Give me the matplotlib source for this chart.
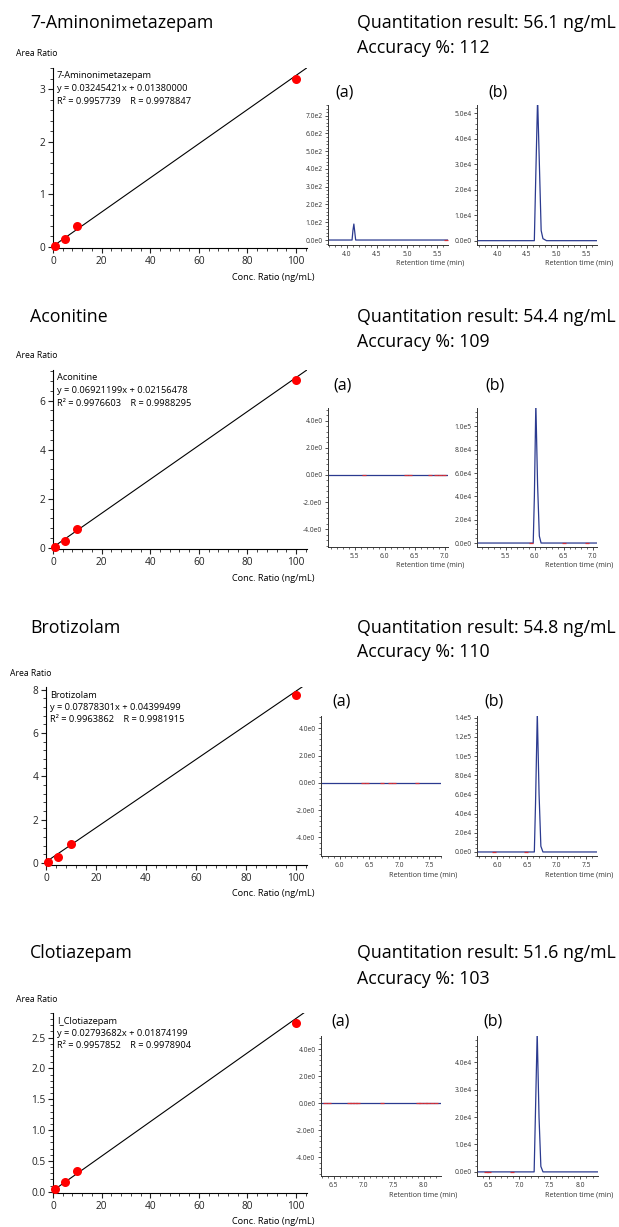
import numpy as np
import matplotlib
matplotlib.use("Agg")
import matplotlib.pyplot as plt
from matplotlib.ticker import MultipleLocator, FuncFormatter

plt.rcParams["font.family"] = ["Open Sans", "DejaVu Sans"]

# ---- data ----
compounds = ["7-Aminonimetazepam", "Aconitine", "Brotizolam", "Clotiazepam"]
fit_labels = ["7-Aminonimetazepam", "Aconitine", "Brotizolam", "I_Clotiazepam"]
slopes = [0.03245421, 0.06921199, 0.07878301, 0.02793682]
intercepts = [0.01380000, 0.02156478, 0.04399499, 0.01874199]
r2_values = ["0.9957739", "0.9976603", "0.9963862", "0.9957852"]
r_values = ["0.9978847", "0.9988295", "0.9981915", "0.9978904"]
quant_results = [56.1, 54.4, 54.8, 51.6]
accuracies = [112, 109, 110, 103]

cal_conc = [1, 5, 10, 100]
area_7amino = [0.02, 0.15, 0.39, 3.20]
area_aconitine = [0.04, 0.27, 0.77, 6.84]
area_brotizolam = [0.06, 0.28, 0.86, 7.74]
area_clotiazepam = [0.04, 0.16, 0.33, 2.74]
area_ratios = [area_7amino, area_aconitine, area_brotizolam, area_clotiazepam]

cal_ylims = [(-0.02, 3.40), (-0.05, 7.25), (-0.10, 8.12), (-0.02, 2.90)]
cal_ymajor = [1, 2, 2, 0.5]

# chromatograms: (a) blank sample, (b) spiked sample
a_times = [
    [3.68, 4.085, 4.10, 4.115, 4.13, 4.145, 5.68],
    [5.05, 7.06],
    [5.69, 7.70],
    [6.29, 8.29],
]
a_signal = [
    [0, 0, 55, 90, 45, 0, 0],
    [0, 0],
    [0, 0],
    [0, 0],
]
b_times = [
    [3.66, 4.625, 4.65, 4.68, 4.71, 4.74, 4.77, 4.83, 5.68],
    [5.02, 5.975, 5.995, 6.02, 6.05, 6.08, 6.11, 7.06],
    [5.66, 6.625, 6.645, 6.675, 6.705, 6.735, 6.77, 7.68],
    [6.31, 7.245, 7.265, 7.295, 7.325, 7.355, 7.39, 8.29],
]
b_signal = [
    [0, 0, 2.6e4, 5.6e4, 3.0e4, 0.4e4, 0.08e4, 0, 0],
    [0, 0, 4.0e4, 1.2e5, 5.0e4, 0.6e4, 0, 0],
    [0, 0, 5.0e4, 1.45e5, 6.0e4, 0.6e4, 0, 0],
    [0, 0, 2.0e4, 5.1e4, 2.0e4, 0.2e4, 0, 0],
]
a_red_marks = [
    [5.64],
    [5.65, 6.35, 6.42, 6.75, 6.86, 6.92, 6.98],
    [6.40, 6.46, 6.72, 6.85, 6.92, 7.30],
    [6.35, 6.42, 6.75, 6.81, 6.86, 6.91, 7.30, 7.90, 7.96, 8.02, 8.08, 8.14, 8.20],
]
b_red_marks = [
    [],
    [5.93, 6.50, 6.90],
    [5.95, 6.48],
    [6.45, 6.50, 6.88],
]
a_xlims = [(3.685, 5.68), (5.055, 7.055), (5.69, 7.70), (6.29, 8.29)]
b_xlims = [(3.66, 5.68), (5.01, 7.07), (5.66, 7.68), (6.31, 8.29)]
a_ylims = [(-28, 760), (-5.3, 4.93), (-5.37, 4.9), (-5.37, 4.98)]
b_ylims = [(-1700, 53300), (-3400, 115700), (-4200, 141800), (-1500, 49600)]
a_ymajor = [100, 2, 2, 2]
b_ymajor = [1e4, 2e4, 2e4, 1e4]

# ---- layout in pixels (left, top, right, bottom) ----
W, H = 619, 1227
cal_boxes = [(53, 68, 307, 248), (53, 370, 307, 549), (46, 687, 307, 865), (53, 1013, 307, 1193)]
a_boxes = [(328, 105, 448, 245), (328, 408, 448, 547), (321, 716, 441, 856), (321, 1036, 441, 1176)]
b_boxes = [(477, 105, 597, 245), (477, 408, 597, 547), (477, 716, 597, 856), (477, 1036, 598, 1176)]
title_y = [22.7, 316.7, 628.3, 953.3]
acc_y = [48.3, 341.7, 651.7, 979.0]
ab_y = [92.7, 385.0, 701.7, 1021.7]
ab_x = [(335, 488), (333, 485), (332, 484), (331, 483)]
area_label_x = [16, 16, 10, 16]

LINE_BLUE = "#2b3a8f"


def rect(box):
    l, t, r, b = box
    return [l / W, 1 - b / H, (r - l) / W, (b - t) / H]


def ftext(fig, x, y, s, **kw):
    kw.setdefault("va", "center")
    fig.text(x / W, 1 - y / H, s, **kw)


def sci_label(v, pos):
    if abs(v) < 1e-12:
        return "0.0e0"
    e = int(np.floor(np.log10(abs(v)) + 1e-9))
    return f"{v / 10 ** e:.1f}e{e}"


def draw_calibration(fig, i):
    box = cal_boxes[i]
    ax = fig.add_axes(rect(box))
    ax.set_xlim(0, 104.5)
    ax.set_ylim(*cal_ylims[i])
    xs = np.array([0, 104.5])
    ax.plot(xs, slopes[i] * xs + intercepts[i], color="black", lw=0.8, zorder=2)
    ax.plot(cal_conc, area_ratios[i], "o", color="#ff0000", ms=6.5, mec="none",
            zorder=3, clip_on=False)
    for s in ["top", "right"]:
        ax.spines[s].set_visible(False)
    for s in ["left", "bottom"]:
        ax.spines[s].set_linewidth(0.8)
    ax.xaxis.set_major_locator(MultipleLocator(20))
    ax.xaxis.set_minor_locator(MultipleLocator(4))
    ax.yaxis.set_major_locator(MultipleLocator(cal_ymajor[i]))
    ax.yaxis.set_minor_locator(MultipleLocator(cal_ymajor[i] / 5))
    if cal_ymajor[i] < 1:
        ax.yaxis.set_major_formatter(FuncFormatter(lambda v, p: f"{v:.1f}"))
    else:
        ax.yaxis.set_major_formatter(FuncFormatter(lambda v, p: f"{v:.0f}"))
    ax.tick_params(which="major", length=3.5, width=0.8, labelsize=7.3, pad=2, colors="#222")
    ax.tick_params(which="minor", length=2, width=0.6, colors="#222")

    l, t, r, b = box
    ftext(fig, area_label_x[i], t - 14, "Area Ratio", fontsize=6.2, ha="left")
    ftext(fig, r + 8, b + 29, "Conc. Ratio (ng/mL)", fontsize=6.6, ha="right")
    ftext(fig, l + 4, t + 8, fit_labels[i], fontsize=6.7, ha="left")
    ftext(fig, l + 4, t + 20.5,
          f"y = {slopes[i]:.8f}x + {intercepts[i]:.8f}", fontsize=6.7, ha="left")
    ftext(fig, l + 4, t + 33,
          f"R² = {r2_values[i]}    R = {r_values[i]}", fontsize=6.7, ha="left")


def draw_chrom(fig, box, times, signal, red, xlim, ylim, ymajor):
    ax = fig.add_axes(rect(box))
    ax.plot(times, signal, color=LINE_BLUE, lw=0.9, zorder=2)
    if red:
        ax.plot(red, [0] * len(red), "_", color="#d0303a", ms=2.5, mew=0.9, zorder=3)
    ax.set_xlim(*xlim)
    ax.set_ylim(*ylim)
    for s in ["top", "right"]:
        ax.spines[s].set_visible(False)
    for s in ["left", "bottom"]:
        ax.spines[s].set_linewidth(0.7)
        ax.spines[s].set_color("#333")
    ax.xaxis.set_major_locator(MultipleLocator(0.5))
    ax.xaxis.set_minor_locator(MultipleLocator(0.1))
    ax.yaxis.set_major_locator(MultipleLocator(ymajor))
    ax.yaxis.set_minor_locator(MultipleLocator(ymajor / 5))
    ax.xaxis.set_major_formatter(FuncFormatter(lambda v, p: f"{v:.1f}"))
    ax.yaxis.set_major_formatter(FuncFormatter(sci_label))
    ax.tick_params(which="major", length=2.5, width=0.6, labelsize=4.9, pad=1.5,
                   colors="#333")
    ax.tick_params(which="minor", length=1.5, width=0.5, colors="#333")
    l, t, r, b = box
    ftext(fig, l + 68, b + 18.5, "Retention time (min)", fontsize=5.1, ha="left",
          color="#333")


fig = plt.figure(figsize=(W / 100, H / 100), dpi=100)

for i in range(len(compounds)):
    ftext(fig, 30, title_y[i], compounds[i], fontsize=12.8, ha="left")
    ftext(fig, 357, title_y[i], f"Quantitation result: {quant_results[i]} ng/mL",
          fontsize=12.8, ha="left")
    ftext(fig, 357, acc_y[i], f"Accuracy %: {accuracies[i]}", fontsize=12.8, ha="left")
    ftext(fig, ab_x[i][0], ab_y[i], "(a)", fontsize=11.5, ha="left")
    ftext(fig, ab_x[i][1], ab_y[i], "(b)", fontsize=11.5, ha="left")

    draw_calibration(fig, i)
    draw_chrom(fig, a_boxes[i], a_times[i], a_signal[i], a_red_marks[i],
               a_xlims[i], a_ylims[i], a_ymajor[i])
    draw_chrom(fig, b_boxes[i], b_times[i], b_signal[i], b_red_marks[i],
               b_xlims[i], b_ylims[i], b_ymajor[i])

fig.savefig("out.png", dpi=100)
